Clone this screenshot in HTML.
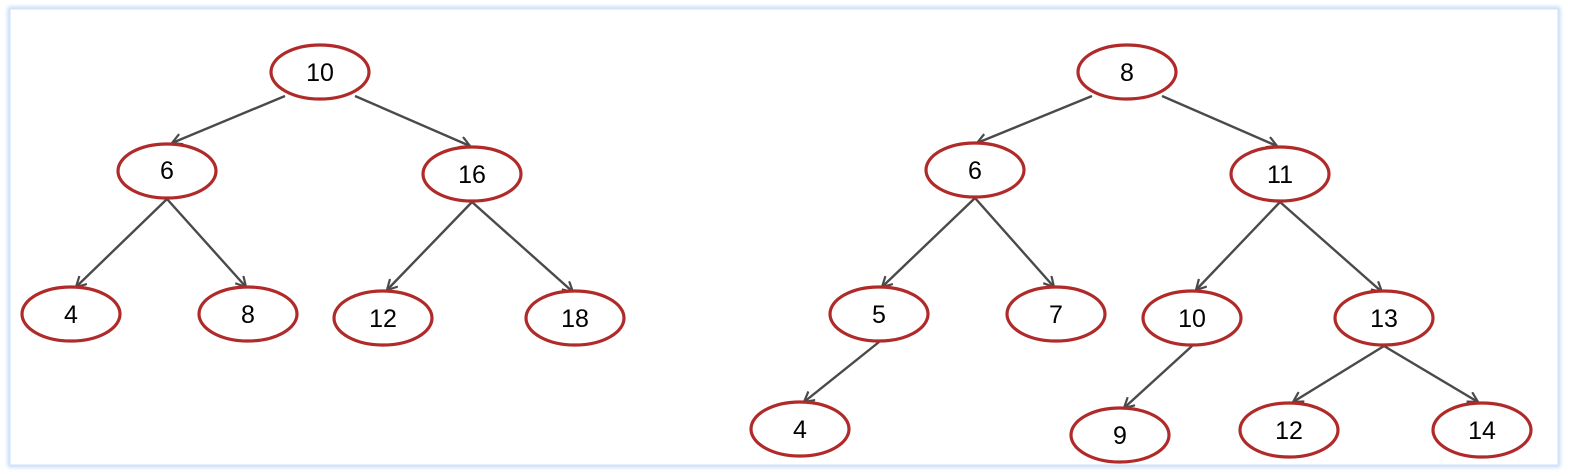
<!DOCTYPE html>
<html><head><style>
body{margin:0;background:#fff;}
svg{display:block;}
text{font-family:"Liberation Sans",Calibri,sans-serif;font-size:25px;fill:#000;}
</style></head><body>
<svg width="1587" height="476" viewBox="0 0 1587 476">
<defs>
<marker id="a" markerWidth="14" markerHeight="14" refX="11" refY="6" orient="auto" markerUnits="userSpaceOnUse">
<path d="M1,0.5 L11,6 L1,11.5" fill="none" stroke="#4a4a4a" stroke-width="2.2"/>
</marker>
<filter id="g" x="-5%" y="-5%" width="110%" height="110%"><feGaussianBlur stdDeviation="2"/></filter>
</defs>
<rect x="0" y="0" width="1587" height="476" fill="#fff"/>
<rect x="10" y="9" width="1548" height="456" fill="none" stroke="#b8d4f5" stroke-width="4" filter="url(#g)"/>
<rect x="10" y="9" width="1548" height="456" fill="#fff" stroke="#cfe2f9" stroke-width="1"/>
<g stroke="#4a4a4a" stroke-width="2.4" marker-end="url(#a)">
<line x1="285" y1="96" x2="172" y2="143"/>
<line x1="355" y1="96" x2="470" y2="146"/>
<line x1="167" y1="199" x2="76" y2="287"/>
<line x1="167" y1="199" x2="246" y2="287"/>
<line x1="472" y1="202" x2="387" y2="290"/>
<line x1="472" y1="202" x2="573" y2="292"/>
<line x1="1092" y1="96" x2="977" y2="143"/>
<line x1="1162" y1="96" x2="1277" y2="146"/>
<line x1="975" y1="198" x2="882" y2="287"/>
<line x1="975" y1="198" x2="1054" y2="287"/>
<line x1="1280" y1="202" x2="1196" y2="290"/>
<line x1="1280" y1="202" x2="1382" y2="292"/>
<line x1="879" y1="342" x2="804" y2="402"/>
<line x1="1192" y1="346" x2="1124" y2="408"/>
<line x1="1384" y1="346" x2="1293" y2="402"/>
<line x1="1384" y1="346" x2="1478" y2="402"/>
</g>
<g fill="#fff" stroke="#b02a2a" stroke-width="3.2">
<ellipse cx="320" cy="72" rx="49" ry="27"/>
<ellipse cx="167" cy="171" rx="49" ry="27"/>
<ellipse cx="472" cy="174" rx="49" ry="27"/>
<ellipse cx="71" cy="314" rx="49" ry="27"/>
<ellipse cx="248" cy="314" rx="49" ry="27"/>
<ellipse cx="383" cy="318" rx="49" ry="27"/>
<ellipse cx="575" cy="318" rx="49" ry="27"/>
<ellipse cx="1127" cy="72" rx="49" ry="27"/>
<ellipse cx="975" cy="170" rx="49" ry="27"/>
<ellipse cx="1280" cy="174" rx="49" ry="27"/>
<ellipse cx="879" cy="314" rx="49" ry="27"/>
<ellipse cx="1056" cy="314" rx="49" ry="27"/>
<ellipse cx="1192" cy="318" rx="49" ry="27"/>
<ellipse cx="1384" cy="318" rx="49" ry="27"/>
<ellipse cx="800" cy="429" rx="49" ry="27"/>
<ellipse cx="1120" cy="435" rx="49" ry="27"/>
<ellipse cx="1289" cy="430" rx="49" ry="27"/>
<ellipse cx="1482" cy="430" rx="49" ry="27"/>
</g>
<g text-anchor="middle">
<text x="320" y="81">10</text>
<text x="167" y="179">6</text>
<text x="472" y="183">16</text>
<text x="71" y="323">4</text>
<text x="248" y="323">8</text>
<text x="383" y="327">12</text>
<text x="575" y="327">18</text>
<text x="1127" y="81">8</text>
<text x="975" y="179">6</text>
<text x="1280" y="183">11</text>
<text x="879" y="323">5</text>
<text x="1056" y="323">7</text>
<text x="1192" y="327">10</text>
<text x="1384" y="327">13</text>
<text x="800" y="438">4</text>
<text x="1120" y="444">9</text>
<text x="1289" y="439">12</text>
<text x="1482" y="439">14</text>
</g>
</svg>
</body></html>
